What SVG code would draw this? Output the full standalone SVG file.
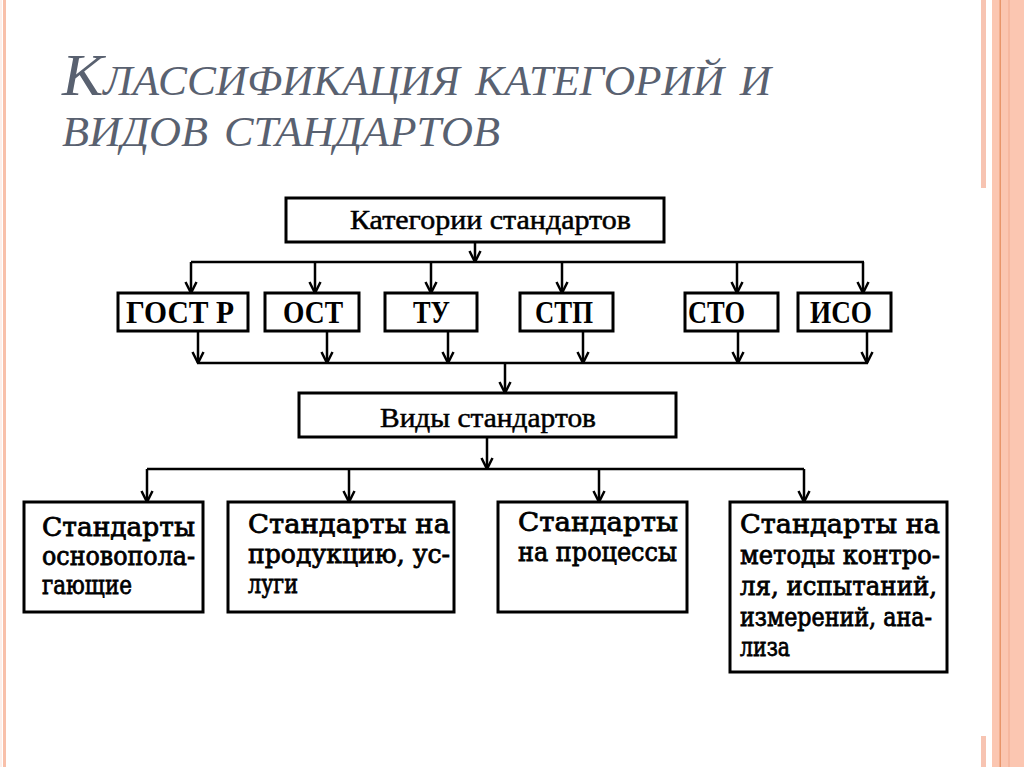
<svg xmlns="http://www.w3.org/2000/svg" width="1024" height="767" viewBox="0 0 1024 767">
<style>
.box{fill:#fff;stroke:#000;stroke-width:3}
.con{fill:none;stroke:#000;stroke-width:2.5}
.arr{marker-end:url(#ah)}
.title{font-family:"Liberation Serif","Times New Roman",serif;font-style:italic;font-variant:small-caps;font-size:60px;fill:#596170}
.lbl{font-family:"Liberation Serif","Times New Roman",serif;font-weight:bold;font-size:32px;fill:#000}
.hdr{font-family:"Liberation Serif","Times New Roman",serif;font-size:27px;fill:#000;stroke:#000;stroke-width:0.5}
.txt{font-family:"DejaVu Serif","Liberation Serif",serif;font-size:26px;fill:#000;stroke:#000;stroke-width:0.8}
</style>
<defs>
<marker id="ah" viewBox="-12 -7 13 14" refX="0" refY="0" markerWidth="13" markerHeight="14" markerUnits="userSpaceOnUse" orient="auto">
<path d="M-11,-5.5 L0,0 L-11,5.5" fill="none" stroke="#000" stroke-width="2.5"/>
</marker>
</defs>
<rect x="0" y="0" width="1024" height="767" fill="#fff"/>
<g id="decor">
<rect x="0.5" y="0" width="1" height="767" fill="#fbe0d5"/>
<rect x="3" y="0" width="3" height="767" fill="#f8c0aa"/>
<rect x="981" y="0" width="5" height="188" fill="#f7c4b2"/>
<rect x="981" y="736" width="5" height="31" fill="#f7c4b2"/>
<rect x="992" y="0" width="32" height="767" fill="#fbc6b1"/>
<rect x="999.5" y="0" width="1.5" height="767" fill="#e8956a"/>
<rect x="1008" y="0" width="2" height="767" fill="#f6b8a0"/>
</g>
<g id="title">
<text class="title" x="62" y="95" textLength="709" lengthAdjust="spacingAndGlyphs">Классификация категорий и</text>
<text class="title" x="62" y="146" textLength="438" lengthAdjust="spacingAndGlyphs">видов стандартов</text>
</g>
<g id="connectors">
<path class="con arr" d="M475,242 V262"/>
<path class="con" d="M191,262 H864"/>
<path class="con arr" d="M191,262 V293"/>
<path class="con arr" d="M315,262 V293"/>
<path class="con arr" d="M431,262 V293"/>
<path class="con arr" d="M562,262 V293"/>
<path class="con arr" d="M737,262 V293"/>
<path class="con arr" d="M863,262 V293"/>
<path class="con arr" d="M198,331 V363"/>
<path class="con arr" d="M327,331 V363"/>
<path class="con arr" d="M448,331 V363"/>
<path class="con arr" d="M583,331 V363"/>
<path class="con arr" d="M738,331 V363"/>
<path class="con arr" d="M867,331 V363"/>
<path class="con" d="M197,363 H868"/>
<path class="con arr" d="M505,363 V393"/>
<path class="con arr" d="M487,437 V469"/>
<path class="con" d="M147,469 H804"/>
<path class="con arr" d="M147,469 V502"/>
<path class="con arr" d="M349,469 V502"/>
<path class="con arr" d="M599,469 V502"/>
<path class="con arr" d="M804,469 V502"/>
</g>
<g id="n-categories">
<rect class="box" x="286" y="198" width="378" height="44"/>
<text class="hdr" x="350" y="229" textLength="281" lengthAdjust="spacingAndGlyphs">Категории стандартов</text>
</g>
<g id="n-gostr">
<rect class="box" x="118" y="293" width="130" height="38"/>
<text class="lbl" x="126" y="323" textLength="108" lengthAdjust="spacingAndGlyphs">ГОСТ Р</text>
</g>
<g id="n-ost">
<rect class="box" x="265" y="293" width="94" height="38"/>
<text class="lbl" x="283" y="323" textLength="60" lengthAdjust="spacingAndGlyphs">ОСТ</text>
</g>
<g id="n-tu">
<rect class="box" x="385" y="293" width="92" height="38"/>
<text class="lbl" x="413" y="323" textLength="37" lengthAdjust="spacingAndGlyphs">ТУ</text>
</g>
<g id="n-stp">
<rect class="box" x="520" y="293" width="93" height="38"/>
<text class="lbl" x="535" y="323" textLength="58" lengthAdjust="spacingAndGlyphs">СТП</text>
</g>
<g id="n-sto">
<rect class="box" x="685" y="293" width="93" height="38"/>
<text class="lbl" x="688" y="323" textLength="57" lengthAdjust="spacingAndGlyphs">СТО</text>
</g>
<g id="n-iso">
<rect class="box" x="798" y="293" width="93" height="38"/>
<text class="lbl" x="810" y="323" textLength="62" lengthAdjust="spacingAndGlyphs">ИСО</text>
</g>
<g id="n-types">
<rect class="box" x="299" y="393" width="377" height="44"/>
<text class="hdr" x="380" y="427" textLength="216" lengthAdjust="spacingAndGlyphs">Виды стандартов</text>
</g>
<g id="n-basic">
<rect class="box" x="24" y="502" width="179" height="110"/>
<text class="txt" x="42" y="536" textLength="153" lengthAdjust="spacingAndGlyphs">Стандарты</text>
<text class="txt" x="42" y="565" textLength="153" lengthAdjust="spacingAndGlyphs">основопола-</text>
<text class="txt" x="42" y="594" textLength="90" lengthAdjust="spacingAndGlyphs">гающие</text>
</g>
<g id="n-products">
<rect class="box" x="228" y="502" width="226" height="110"/>
<text class="txt" x="248" y="533" textLength="202" lengthAdjust="spacingAndGlyphs">Стандарты на</text>
<text class="txt" x="248" y="563" textLength="202" lengthAdjust="spacingAndGlyphs">продукцию, ус-</text>
<text class="txt" x="248" y="593" textLength="50" lengthAdjust="spacingAndGlyphs">луги</text>
</g>
<g id="n-processes">
<rect class="box" x="498" y="502" width="189" height="110"/>
<text class="txt" x="518" y="531" textLength="160" lengthAdjust="spacingAndGlyphs">Стандарты</text>
<text class="txt" x="518" y="561" textLength="159" lengthAdjust="spacingAndGlyphs">на процессы</text>
</g>
<g id="n-methods">
<rect class="box" x="730" y="502" width="217" height="170"/>
<text class="txt" x="740" y="533" textLength="200" lengthAdjust="spacingAndGlyphs">Стандарты на</text>
<text class="txt" x="740" y="564" textLength="200" lengthAdjust="spacingAndGlyphs">методы контро-</text>
<text class="txt" x="740" y="595" textLength="197" lengthAdjust="spacingAndGlyphs">ля, испытаний,</text>
<text class="txt" x="740" y="626" textLength="192" lengthAdjust="spacingAndGlyphs">измерений, ана-</text>
<text class="txt" x="740" y="656" textLength="50" lengthAdjust="spacingAndGlyphs">лиза</text>
</g>
</svg>
